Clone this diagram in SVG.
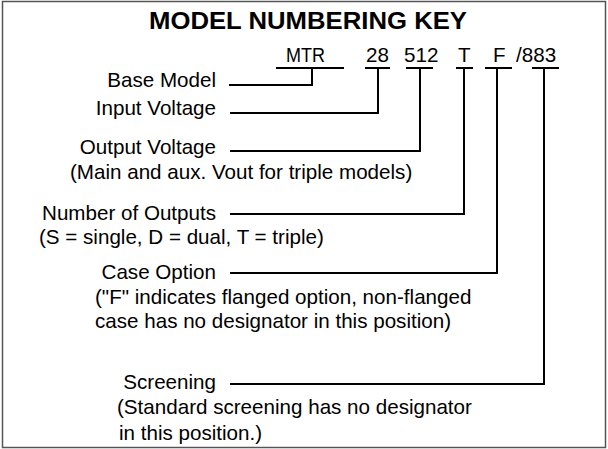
<svg xmlns="http://www.w3.org/2000/svg" width="608" height="449" viewBox="0 0 608 449">
<style>
text{font-family:"Liberation Sans",Arial,sans-serif;font-size:20.6px;fill:#000}
.title{font-weight:bold;font-size:23px}
.lbl{text-anchor:end}
.ln{stroke:#000;stroke-width:2;fill:none}
</style>
<rect x="2.5" y="1.5" width="603" height="446" fill="#fff" stroke="#555" stroke-width="1.5"/>
<text class="title" x="149" y="29" textLength="318" lengthAdjust="spacingAndGlyphs">MODEL NUMBERING KEY</text>
<g id="code">
<text x="286" y="62" textLength="39" lengthAdjust="spacingAndGlyphs">MTR</text>
<text x="366" y="62">28</text>
<text x="404" y="62">512</text>
<text x="458" y="62">T</text>
<text x="493" y="62">F</text>
<text x="516" y="62">/883</text>
</g>
<g id="connectors" class="ln">
<path d="M276 68H344M365 68H390M406 68H433M456 68H473M485 68H512M532 68H559"/>
<path d="M229 85H312V68"/>
<path d="M230 113H378V68"/>
<path d="M230 151H420V68"/>
<path d="M230 214H464V68"/>
<path d="M230 273H497V68"/>
<path d="M230 384H544V68"/>
</g>
<g id="base-model"><text class="lbl" x="216" y="87">Base Model</text></g>
<g id="input-voltage"><text class="lbl" x="216" y="115">Input Voltage</text></g>
<g id="output-voltage"><text class="lbl" x="216" y="154">Output Voltage</text>
<text x="70" y="179">(Main and aux. Vout for triple models)</text></g>
<g id="number-of-outputs"><text class="lbl" x="216" y="220">Number of Outputs</text>
<text x="39" y="244">(S = single, D = dual, T = triple)</text></g>
<g id="case-option"><text class="lbl" x="216" y="279">Case Option</text>
<text x="95" y="304">("F" indicates flanged option, non-flanged</text>
<text x="95" y="328">case has no designator in this position)</text></g>
<g id="screening"><text class="lbl" x="216" y="389">Screening</text>
<text x="117" y="414">(Standard screening has no designator</text>
<text x="119" y="440">in this position.)</text></g>
</svg>
